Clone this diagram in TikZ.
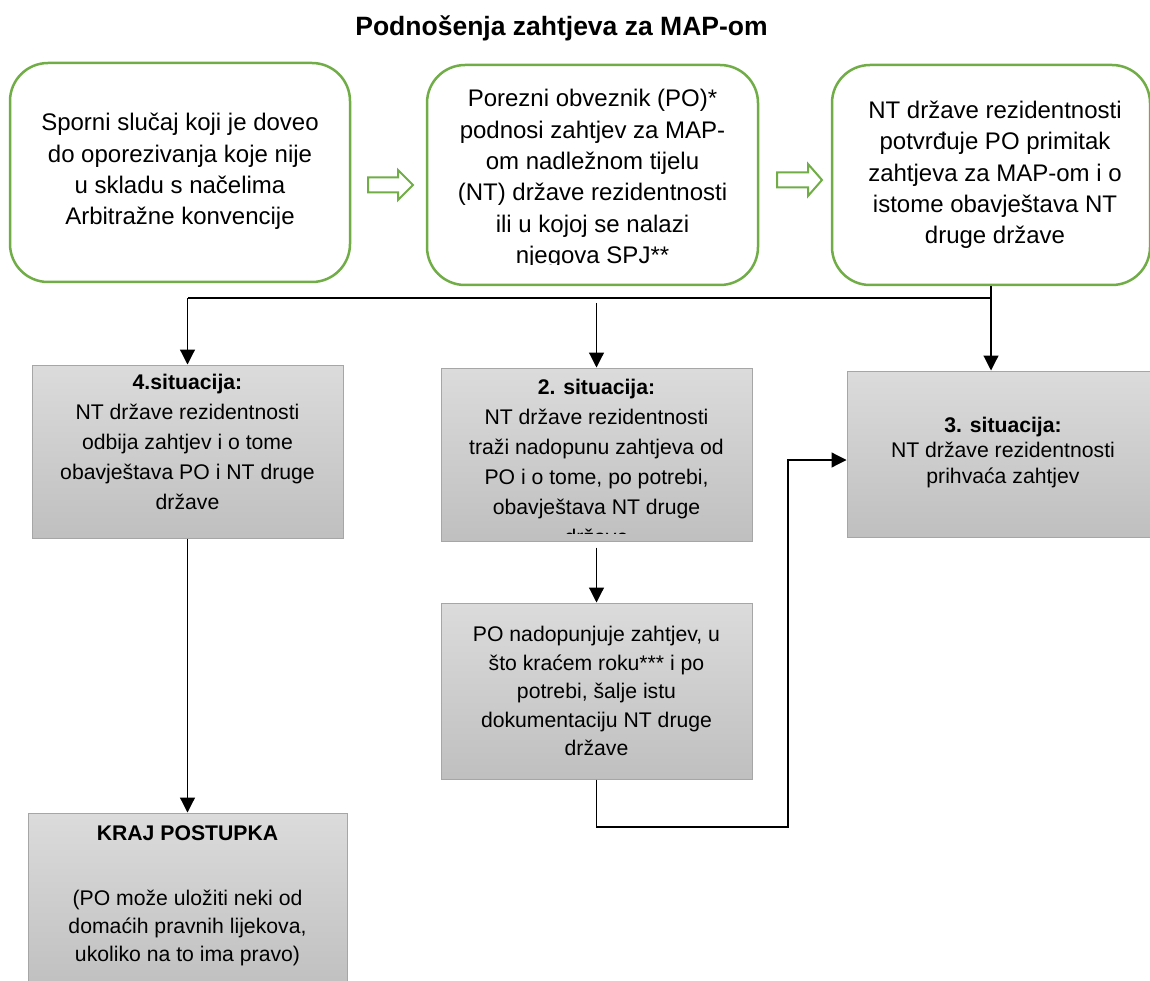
\documentclass[tikz,border=0pt]{standalone}
\usepackage{fontspec}
\setmainfont{Liberation Sans}
\usetikzlibrary{arrows.meta}
\definecolor{mapgreen}{HTML}{70AD47}
\definecolor{boxedge}{HTML}{A6A6A6}

\begin{document}
\begin{tikzpicture}[x=1pt, y=-1pt,
    topbox/.style={draw=mapgreen, line width=2.5pt, rounded corners=38pt, fill=white, inner sep=0pt},
    greybox/.style={draw=boxedge, line width=1pt, top color=black!14, bottom color=black!25, inner sep=0pt},
    toptext/.style={align=center, font=\fontsize{24}{31.3}\selectfont},
    greytext/.style={align=center, font=\fontsize{21.2}{30}\selectfont},
    hollow/.style={draw=mapgreen, line width=2pt, fill=white},
    arr/.style={-{Triangle[length=15pt,width=15pt]}, line width=1.2pt}]
    \useasboundingbox (0,0) rectangle (1150,981);
    \clip (0,0) rectangle (1150,981);

    \node[font=\fontsize{26.5}{30}\selectfont\bfseries] (title) at (561.5,28) {Podnošenja zahtjeva za MAP-om};

    \node[topbox, minimum width=340pt, minimum height=219pt] (t1) at (180,172.5) {};
    \node[topbox, minimum width=331pt, minimum height=220pt] (t2) at (592.5,175) {};
    \node[topbox, minimum width=318pt, minimum height=220pt] (t3) at (991,175) {};
    \node[greybox, minimum width=311pt, minimum height=173pt] (s4) at (187.5,451.5) {};
    \node[greybox, minimum width=311pt, minimum height=173pt] (s2) at (596.5,454.5) {};
    \node[greybox, minimum width=308pt, minimum height=166pt] (s3) at (1001,454) {};
    \node[greybox, minimum width=311pt, minimum height=176pt] (dop) at (596.5,691) {};
    \node[greybox, minimum width=319pt, minimum height=177pt] (kraj) at (187.5,901.5) {};

    \node[toptext] (t1txt) at ([yshift=1pt]t1.center) {Sporni slučaj koji je doveo\\do oporezivanja koje nije\\u skladu s načelima\\Arbitražne konvencije};
    \begin{scope}
        \clip (t2.north west) rectangle ([yshift=22pt]t2.south east);
        \node[toptext] (t2txt) at ([yshift=-4pt]t2.center) {Porezni obveznik (PO)*\\podnosi zahtjev za MAP-\\om nadležnom tijelu\\(NT) države rezidentnosti\\ili u kojoj se nalazi\\njegova SPJ**};
    \end{scope}
    \node[toptext] (t3txt) at ([xshift=4pt]t3.center) {NT države rezidentnosti\\potvrđuje PO primitak\\zahtjeva za MAP-om i o\\istome obavještava NT\\druge države};

    \node[greytext] (s4txt) at ([yshift=10pt]s4.center) {\textbf{4.situacija:}\\NT države rezidentnosti\\odbija zahtjev i o tome\\obavještava PO i NT druge\\države};
    \begin{scope}
        \clip (s2.north west) rectangle ([yshift=8pt]s2.south east);
        \node[greytext] (s2txt) at ([yshift=-7pt]s2.center) {\textbf{2. situacija:}\\NT države rezidentnosti\\traži nadopunu zahtjeva od\\PO i o tome, po potrebi,\\obavještava NT druge\\države};
    \end{scope}
    \node[greytext, font=\fontsize{21.2}{25.5}\selectfont] (s3txt) at ([xshift=2pt,yshift=1.5pt]s3.center) {\textbf{3. situacija:}\\NT države rezidentnosti\\prihvaća zahtjev};
    \node[greytext, font=\fontsize{21.2}{28.5}\selectfont] (doptxt) at (dop.center) {PO nadopunjuje zahtjev, u\\što kraćem roku*** i po\\potrebi, šalje istu\\dokumentaciju NT druge\\države};
    \node[greytext, font=\fontsize{21.2}{28}\selectfont] (krajtxt) at ([yshift=6pt]kraj.center) {\textbf{KRAJ POSTUPKA}\\[37pt](PO može uložiti neki od\\domaćih pravnih lijekova,\\ukoliko na to ima pravo)};

    \draw[hollow] (368,177.5) -- (398,177.5) -- (398,170) -- (413,185) -- (398,200) -- (398,192.5) -- (368,192.5) -- cycle;
    \draw[hollow] (777,172.5) -- (808,172.5) -- (808,164) -- (822,180) -- (808,196) -- (808,187.5) -- (777,187.5) -- cycle;

    \coordinate (bus) at (0,298);
    \coordinate (bend) at (788,827);
    \draw[line width=1.2pt] (t3.south) -- (t3.south |- bus) -- (s4.north |- bus);
    \draw[arr] (s4.north |- bus) -- (s4.north);
    \draw[arr, shorten <=5pt] (s2.north |- bus) -- (s2.north);
    \draw[arr] (t3.south |- bus) -- (t3.south |- s3.north);
    \draw[arr, shorten <=6pt] (s2.south) -- (dop.north);
    \draw[arr] (s4.south) -- (kraj.north);
    \draw[arr] (dop.south) |- (bend) |- ([yshift=-6pt]s3.west);
\end{tikzpicture}
\end{document}
